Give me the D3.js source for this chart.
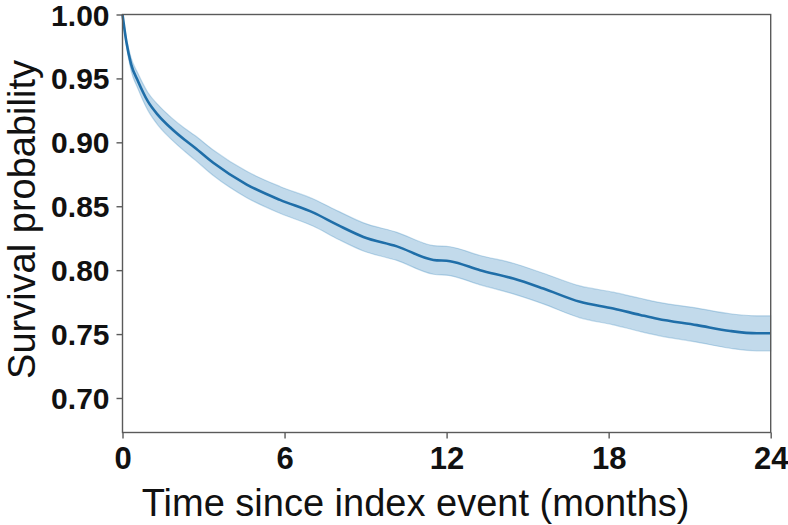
<!DOCTYPE html>
<html>
<head>
<meta charset="utf-8">
<script src="https://cdn.jsdelivr.net/npm/d3@7"></script>
<style>
  body { margin: 0; background: #fff; }
</style>
</head>
<body>
<div id="my_dataviz"></div>
<script>
// survival curve (months, probability)
var months = [0, 0.14, 0.32, 0.57, 0.94, 1.31, 1.8, 2.3, 2.67, 3.36, 4.6, 5.83, 7.07, 8.0,
    8.92, 10.16, 11.51, 12.13, 13.24, 14.47, 15.58, 16.94, 18.17, 19.17, 19.8, 21.27, 22.5, 23.49, 24];
var survival = [1.0, 0.979, 0.961, 0.948, 0.932, 0.9215, 0.911, 0.902, 0.896, 0.884, 0.867, 0.855, 0.845, 0.835,
    0.826, 0.8186, 0.808, 0.807, 0.8, 0.7934, 0.7856, 0.7752, 0.77, 0.765, 0.762, 0.757, 0.7524, 0.7506, 0.7506];
var ciLower = [1.0, 0.976, 0.956, 0.942, 0.925, 0.9135, 0.9025, 0.893, 0.8865, 0.874, 0.8567, 0.8445, 0.8343, 0.824,
    0.815, 0.8076, 0.7968, 0.7957, 0.7885, 0.7814, 0.7736, 0.7627, 0.7572, 0.752, 0.749, 0.7437, 0.7389, 0.7369, 0.7369];
var ciUpper = [1.0, 0.982, 0.966, 0.954, 0.939, 0.9295, 0.9195, 0.911, 0.9055, 0.894, 0.8773, 0.8655, 0.8557, 0.846,
    0.837, 0.8296, 0.8192, 0.8183, 0.8115, 0.8054, 0.7976, 0.7877, 0.7828, 0.778, 0.775, 0.7703, 0.7659, 0.7643, 0.7643];

var xTicks = [0, 6, 12, 18, 24];
var yTicks = [0.70, 0.75, 0.80, 0.85, 0.90, 0.95, 1.00];
var xLabel = "Time since index event (months)";
var yLabel = "Survival probability";

var margin = { top: 14.5, right: 17.3, bottom: 92.5, left: 122.5 },
    width = 788 - margin.left - margin.right,
    height = 525 - margin.top - margin.bottom;

var svg = d3
    .select("#my_dataviz")
    .append("svg")
    .attr("width", 788)
    .attr("height", 525)
    .style("font-family", "Liberation Sans, Arial, sans-serif")
    .append("g")
    .attr("transform", "translate(" + margin.left + "," + margin.top + ")");

var x = d3.scaleLinear().domain([0, 24]).range([0, width]);
var y = d3.scaleLinear().domain([0.673, 1.0]).range([height, 0]);

var data = months.map(function (m, i) {
    return { t: m, s: survival[i], lo: ciLower[i], hi: ciUpper[i] };
});

// confidence band
var area = d3
    .area()
    .curve(d3.curveMonotoneX)
    .x(function (d) { return x(d.t); })
    .y0(function (d) { return y(d.lo); })
    .y1(function (d) { return y(d.hi); });

svg.append("path")
    .datum(data)
    .attr("d", area)
    .style("fill", "#1f77b4")
    .style("fill-opacity", 0.27)
    .style("stroke", "#1f77b4")
    .style("stroke-opacity", 0.25)
    .style("stroke-width", 1.2);

var line = d3
    .line()
    .curve(d3.curveMonotoneX)
    .x(function (d) { return x(d.t); })
    .y(function (d) { return y(d.s); });

svg.append("path")
    .datum(data)
    .attr("d", line)
    .style("fill", "none")
    .style("stroke", "#1f6ea8")
    .style("stroke-width", 2.6)
    .style("stroke-linejoin", "round");

// frame
svg.append("rect")
    .attr("width", width)
    .attr("height", height)
    .style("fill", "none")
    .style("stroke", "#5a5a5a")
    .style("stroke-width", 1.4);

// axes
var xAxis = svg
    .append("g")
    .attr("transform", "translate(0," + height + ")")
    .call(d3.axisBottom(x).tickValues(xTicks).tickSize(6).tickPadding(8).tickFormat(d3.format("d")));

var yAxis = svg
    .append("g")
    .call(d3.axisLeft(y).tickValues(yTicks).tickSize(6).tickPadding(7).tickFormat(d3.format(".2f")));

[xAxis, yAxis].forEach(function (ax) {
    ax.select(".domain").remove();
    ax.selectAll("line").style("stroke", "#5a5a5a").style("stroke-width", 1.4);
    ax.selectAll("text")
        .style("font-family", "Liberation Sans, Arial, sans-serif")
        .style("font-weight", "bold")
        .style("font-size", "30px")
        .style("fill", "#111");
});
xAxis.selectAll("text").attr("dy", "0.74em").style("font-size", "31px");
yAxis.selectAll("text").attr("dy", "0.35em");

svg.append("text")
    .text(xLabel)
    .attr("x", width / 2 - 31)
    .attr("y", height + 83)
    .style("text-anchor", "middle")
    .style("font-size", "38px")
    .style("fill", "#111");

svg.append("text")
    .text(yLabel)
    .attr("transform", "rotate(-90)")
    .attr("x", -(height / 2) + 4)
    .attr("y", -87.5)
    .style("text-anchor", "middle")
    .style("font-size", "38px")
    .style("fill", "#111");
</script>
</body>
</html>
